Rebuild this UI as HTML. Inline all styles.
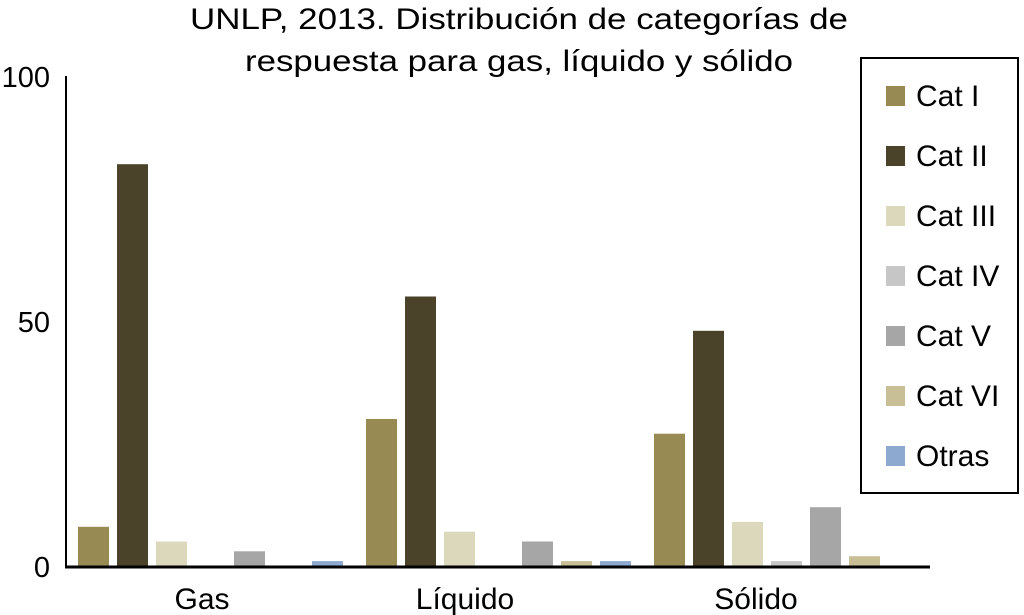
<!DOCTYPE html>
<html><head><meta charset="utf-8"><style>
html,body{margin:0;padding:0;background:#fff;}
svg{display:block;font-family:"Liberation Sans",sans-serif;}
</style></head><body>
<svg id="chart" width="1024" height="615" viewBox="0 0 1024 615">
<text x="519" y="29" font-size="30" text-anchor="middle" textLength="658" lengthAdjust="spacingAndGlyphs">UNLP, 2013. Distribución de categorías de</text>
<text x="519" y="71" font-size="30" text-anchor="middle" textLength="548" lengthAdjust="spacingAndGlyphs">respuesta para gas, líquido y sólido</text>
<g id="bars"></g>
<g id="axes"></g>
<g id="legend"></g>
</svg>
<script>
const categories = ["Gas", "Líquido", "Sólido"];
const seriesNames = ["Cat I", "Cat II", "Cat III", "Cat IV", "Cat V", "Cat VI", "Otras"];
const seriesColors = ["#978b53", "#4a4329", "#dcd8bc", "#c6c6c6", "#a6a6a6", "#c8bf97", "#8ea9d0"];
const catI = [8, 30, 27];
const catII = [82, 55, 48];
const catIII = [5, 7, 9];
const catIV = [0, 0, 1];
const catV = [3, 5, 12];
const catVI = [0, 1, 2];
const otras = [1, 1, 0];
const yTicks = [0, 50, 100];

const series = [catI, catII, catIII, catIV, catV, catVI, otras];
const NS = "http://www.w3.org/2000/svg";
const y0 = 566, y100 = 76;
function yScale(v){ return y0 - (y0 - y100) * v / 100; }
const groupStart = 78, groupStep = 288, barStep = 39, barW = 31;
function xScale(ci, si){ return groupStart + ci * groupStep + si * barStep; }
const labelOffsets = [124, 99, 102];
function labelX(ci){ return groupStart + ci * groupStep + labelOffsets[ci]; }
function mk(tag, attrs, parent){ const e = document.createElementNS(NS, tag); for (const k in attrs) e.setAttribute(k, attrs[k]); parent.appendChild(e); return e; }

const bars = document.getElementById('bars');
series.forEach((vals, si) => {
  vals.forEach((v, ci) => {
    if (v <= 0) return;
    const r = mk('rect', {x: xScale(ci, si), y: yScale(v), width: barW, height: y0 - yScale(v), fill: seriesColors[si]}, bars);
    
    
  });
});

const axes = document.getElementById('axes');
const ya = mk('line', {x1: 66, y1: y100, x2: 66, y2: y0 + 2, stroke: '#000', 'stroke-width': 2}, axes);


const xa = mk('line', {x1: 65, y1: y0 + 1, x2: 930, y2: y0 + 1, stroke: '#000', 'stroke-width': 3}, axes);


yTicks.forEach(t => {
  const tx = mk('text', {x: 50, y: yScale(t) + 11, 'font-size': 29, 'text-anchor': 'end'}, axes);
  tx.textContent = t;
  
  
});
categories.forEach((c, ci) => {
  const tx = mk('text', {x: labelX(ci), y: 609, 'font-size': 30, 'text-anchor': 'middle'}, axes);
  tx.textContent = c;
  
  
});

const legend = document.getElementById('legend');
const box = mk('rect', {x: 861, y: 58, width: 157, height: 435, fill: '#fff', stroke: '#000', 'stroke-width': 2}, legend);


seriesNames.forEach((n, si) => {
  const cy = 96 + si * 60;
  const sw = mk('rect', {x: 886, y: cy - 10, width: 19, height: 20, fill: seriesColors[si]}, legend);
  
  
  const tx = mk('text', {x: 916, y: cy + 10, 'font-size': 30}, legend);
  tx.textContent = n;
  
  
});
</script>
</body></html>
